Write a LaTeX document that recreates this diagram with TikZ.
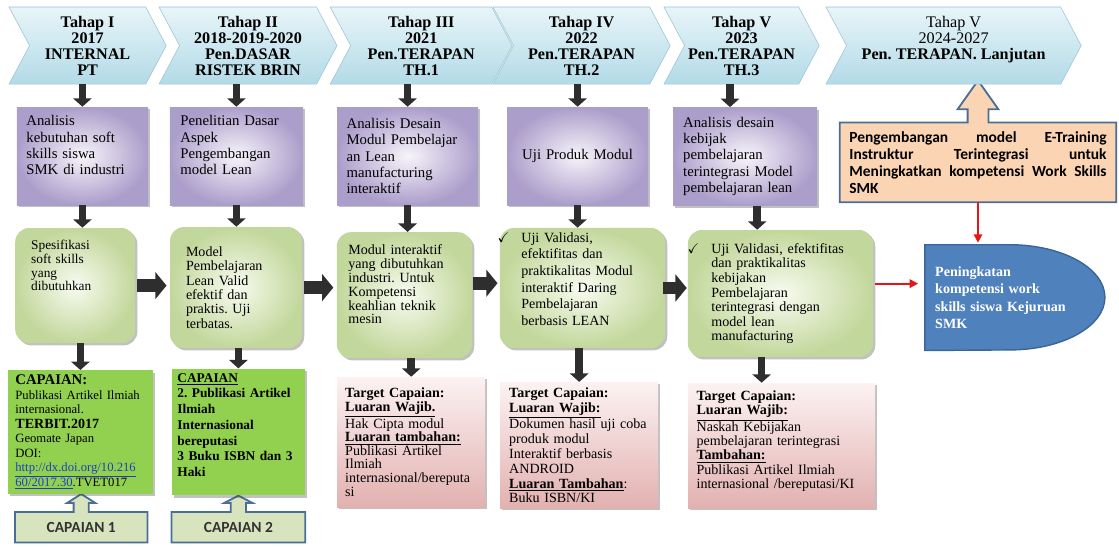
\documentclass[tikz,border=0pt]{standalone}
\usepackage{fontspec}
\usepackage{amssymb}
\setmainfont{Liberation Serif}
\newfontfamily\calfont{Carlito}
\usetikzlibrary{shapes.symbols, arrows.meta, positioning, calc, shadows, backgrounds}
\frenchspacing

\definecolor{stagetop}{HTML}{E8F5F9}
\definecolor{stagebot}{HTML}{B2DAE7}
\definecolor{stageline}{HTML}{9CC4D4}
\definecolor{anaout}{HTML}{AC9ECB}
\definecolor{anain}{HTML}{F7F4FA}
\definecolor{resout}{HTML}{C2D79B}
\definecolor{resin}{HTML}{F8FBF0}
\definecolor{tgttop}{HTML}{FCF2F2}
\definecolor{tgtbot}{HTML}{E2B1B0}
\definecolor{capgreen}{HTML}{92D050}
\definecolor{lblfill}{HTML}{D8E4BE}
\definecolor{lblline}{HTML}{4A6E96}
\definecolor{peach}{HTML}{FBD4B4}
\definecolor{goalblue}{HTML}{4F81BD}
\definecolor{goalline}{HTML}{3A6597}
\definecolor{linkblue}{HTML}{1F3FBF}
\definecolor{arrowgray}{HTML}{2E2E2E}
\definecolor{arrowred}{HTML}{E3161B}

% zero-width strut that lifts a node's text block
\newcommand{\lift}[1]{\rule[-#1]{0pt}{#1}}

\begin{document}
\begin{tikzpicture}[
    stage/.style={signal, signal from=west, signal to=east, signal pointer angle=124, top color=stagetop, bottom color=stagebot, draw=stageline, minimum height=1.93cm, inner sep=0pt, align=center, font=\fontsize{11.5}{11.4}\selectfont\bfseries},
    boxshadow/.style={drop shadow={shadow xshift=1.6pt, shadow yshift=-1.6pt, opacity=0.35, fill=black!70}},
    anabox/.style={rectangle, boxshadow, inner color=anain, outer color=anaout, minimum height=2.45cm, align=left, font=\fontsize{10.5}{11.5}\selectfont},
    resbox/.style={rectangle, rounded corners=0.35cm, boxshadow, inner color=resin, outer color=resout, align=left},
    capbox/.style={rectangle, boxshadow, fill=capgreen, minimum height=3cm, align=left},
    tgtbox/.style={rectangle, boxshadow, top color=tgttop, bottom color=tgtbot, align=left},
    lblbox/.style={rectangle, minimum height=0.75cm, text=black!80, font=\calfont\bfseries\fontsize{11}{12}\selectfont},
    lblshape/.style={fill=lblfill, draw=lblline, line width=1.3pt, line join=miter},
    darrow/.style={-{Triangle[width=13pt,length=6pt]}, line width=5.5pt, draw=arrowgray},
    harrow/.style={-{Triangle[width=19pt,length=8pt]}, line width=9pt, draw=arrowgray},
    redarrow/.style={-{Triangle[width=6pt,length=6pt]}, line width=1.3pt, draw=arrowred},
]
\useasboundingbox (0,0) rectangle (27.975,-13.65);

% Stages
\node[stage, minimum width=3.93cm] (st1) at (2.19,-1.14) {Tahap I\\2017\\INTERNAL\\PT};
\node[stage, minimum width=4.45cm] (st2) at (6.2,-1.14) {Tahap II\\2018-2019-2020\\Pen.DASAR\\RISTEK BRIN};
\node[stage, minimum width=4.55cm] (st3) at (10.53,-1.14) {Tahap III\\2021\\Pen.TERAPAN\\TH.1};
\node[stage, minimum width=4.43cm] (st4) at (14.54,-1.14) {Tahap IV\\2022\\Pen.TERAPAN\\TH.2};
\node[stage, minimum width=3.88cm] (st5) at (18.54,-1.14) {Tahap V\\2023\\Pen.TERAPAN\\TH.3};
\node[stage, minimum width=6.38cm] (st6) at (23.84,-1.14) {{\mdseries Tahap V}\\{\mdseries 2024-2027}\\Pen. TERAPAN. Lanjutan\\\mbox{}};

% Analysis boxes
\node[anabox, minimum width=3.28cm, text width=2.8cm] (an1) at (2.06,-3.9) {Analisis\\kebutuhan soft\\skills siswa\\SMK di industri\lift{0.55cm}};
\node[anabox, minimum width=3.33cm, text width=2.8cm] (an2) at (5.91,-3.9) {Penelitian Dasar\\Aspek\\Pengembangan\\model Lean\lift{0.55cm}};
\node[anabox, minimum width=3.53cm, text width=3.05cm] (an3) at (10.19,-3.9) {Analisis Desain\\Modul Pembelajar\\an Lean\\manufacturing\\interaktif};
\node[anabox, minimum width=3.53cm, text width=3.1cm, align=center] (an4) at (14.44,-3.9) {Uji Produk Modul};
\node[anabox, minimum width=3.6cm, text width=3.1cm] (an5) at (18.63,-3.91) {Analisis desain\\kebijak\\pembelajaran\\terintegrasi Model\\pembelajaran lean};

% Result boxes
\node[resbox, minimum width=3cm, minimum height=2.88cm, text width=2.2cm, font=\fontsize{9.5}{9.7}\selectfont] (res1) at (1.88,-7.14) {Spesifikasi\\soft skills\\yang\\dibutuhkan\lift{1cm}};
\node[resbox, minimum width=3.3cm, minimum height=3.03cm, text width=2.5cm, font=\fontsize{10}{10.2}\selectfont] (res2) at (5.9,-7.19) {Model\\Pembelajaran\\Lean Valid\\efektif dan\\praktis. Uji\\terbatas.};
\node[resbox, minimum width=3.38cm, minimum height=3.15cm, text width=2.8cm, font=\fontsize{10}{9.9}\selectfont] (res3) at (10.11,-7.38) {Modul interaktif\\yang dibutuhkan\\industri. Untuk\\Kompetensi\\keahlian teknik\\mesin\lift{0.55cm}};
\node[resbox, minimum width=4.13cm, minimum height=3cm, text width=3.05cm, font=\fontsize{10}{11.8}\selectfont] (res4) at (14.56,-7.2) {\llap{$\checkmark$\hspace{0.3cm}}Uji Validasi,\\efektifitas dan\\praktikalitas Modul\\interaktif Daring\\Pembelajaran\\berbasis LEAN\lift{0.45cm}};
\node[resbox, minimum width=4.63cm, minimum height=3.18cm, text width=3.45cm, font=\fontsize{10}{10.4}\selectfont] (res5) at (19.51,-7.34) {\llap{$\checkmark$\hspace{0.3cm}}Uji Validasi, efektifitas\\dan praktikalitas\\kebijakan\\Pembelajaran\\terintegrasi dengan\\model lean\\manufacturing};

% Capaian boxes
\node[capbox, minimum width=3.63cm, text width=3.25cm, font=\fontsize{9}{10.3}\selectfont] (cap1) at (2.01,-10.8) {{\bfseries\fontsize{10.5}{10.3}\selectfont CAPAIAN:}\\Publikasi Artikel Ilmiah\\internasional.\\{\bfseries\fontsize{10}{10.3}\selectfont TERBIT.2017}\\Geomate Japan\\DOI:\\\textcolor{linkblue}{\underline{http://dx.doi.org/10.216}}\\\textcolor{linkblue}{\underline{60/2017.30}}.TVET017};
\node[capbox, minimum width=3.33cm, text width=3.05cm, font=\fontsize{9.5}{11.2}\selectfont\bfseries] (cap2) at (5.96,-10.8) {\underline{CAPAIAN}\\2. Publikasi Artikel\\Ilmiah\\Internasional\\bereputasi\\3 Buku ISBN dan 3\\Haki\lift{0.35cm}};

% Target boxes
\node[tgtbox, minimum width=3.7cm, minimum height=3.25cm, text width=3.3cm, font=\fontsize{10}{9.7}\selectfont] (tgt3) at (10.28,-11.05) {\textbf{Target Capaian:}\\\textbf{\underline{Luaran Wajib.}}\\Hak Cipta modul\\\textbf{\underline{Luaran tambahan:}}\\Publikasi Artikel\\Ilmiah\\internasional/bereputa\\si};
\node[tgtbox, minimum width=3.95cm, minimum height=3.15cm, text width=3.5cm, font=\fontsize{10}{10.5}\selectfont] (tgt4) at (14.48,-11.13) {\textbf{Target Capaian:}\\\textbf{\underline{Luaran Wajib:}}\\Dokumen hasil uji coba\\produk modul\\Interaktif berbasis\\ANDROID\\\textbf{\underline{Luaran Tambahan}}:\\Buku ISBN/KI};
\node[tgtbox, minimum width=4.68cm, minimum height=3.13cm, text width=4.25cm, font=\fontsize{10}{10}\selectfont] (tgt5) at (19.54,-11.14) {\textbf{Target Capaian:}\\\textbf{\underline{Luaran Wajib:}}\\Naskah Kebijakan\\pembelajaran terintegrasi\\\textbf{\underline{Tambahan:}}\\Publikasi Artikel Ilmiah\\internasional /bereputasi/KI\lift{0.3cm}};

% Labels under capaian
\node[lblbox, minimum width=3.3cm] (lbl1) at (2.03,-13.18) {CAPAIAN 1};
\node[lblbox, minimum width=3.33cm] (lbl2) at (5.96,-13.18) {CAPAIAN 2};

% Development plan and goal
\node[rectangle, minimum width=6.9cm, minimum height=1.98cm, text width=6.43cm, align=left, font=\calfont\bfseries\fontsize{11}{12.2}\selectfont] (plan) at (24.45,-4.06) {Pengembangan\hfill model\hfill E-Training\\Instruktur\hfill Terintegrasi\hfill untuk\\Meningkatkan\hfill kompetensi\hfill Work\hfill Skills\\SMK};
\node[rectangle, minimum width=4.5cm, minimum height=2.63cm, text width=4cm, align=left, text=white, font=\fontsize{10}{12.5}\selectfont\bfseries] (goal) at (25.38,-7.44) {Peningkatan\\kompetensi work\\skills siswa Kejuruan\\SMK};

\begin{scope}[on background layer]
    \foreach \l/\c in {lbl1/cap1, lbl2/cap2}
        \path[lblshape] (\l.south west) -- (\l.north west) -- ([xshift=-0.19cm]\l.north) -- ([xshift=-0.19cm, yshift=0.225cm]\l.north) -- ([xshift=-0.35cm, yshift=0.225cm]\l.north) -- (\l.north |- \c.south) -- ([xshift=0.35cm, yshift=0.225cm]\l.north) -- ([xshift=0.19cm, yshift=0.225cm]\l.north) -- ([xshift=0.19cm]\l.north) -- (\l.north east) -- (\l.south east) -- cycle;
    \path[fill=peach, draw=lblline, line width=1.3pt, line join=miter] (plan.south west) -- (plan.north west) -- ([xshift=-0.26cm]plan.north) -- ([xshift=-0.26cm, yshift=0.33cm]plan.north) -- ([xshift=-0.51cm, yshift=0.33cm]plan.north) -- ([yshift=0.1cm]plan.north |- st6.south) -- ([xshift=0.51cm, yshift=0.33cm]plan.north) -- ([xshift=0.26cm, yshift=0.33cm]plan.north) -- ([xshift=0.26cm]plan.north) -- (plan.north east) -- (plan.south east) -- cycle;
    \path[fill=goalblue, draw=goalline, line width=1pt] (goal.south west) -- (goal.north west) -- ++(2.12,0) arc[start angle=90, end angle=-90, x radius=2.38cm, y radius=1.315cm] -- cycle;
\end{scope}

% Down arrows
\draw[darrow] (an1.north |- st1.south) -- (an1.north);
\draw[darrow] (an2.north |- st2.south) -- (an2.north);
\draw[darrow] (an3.north |- st3.south) -- (an3.north);
\draw[darrow] (an4.north |- st4.south) -- (an4.north);
\draw[darrow] ([xshift=-0.38cm]an5.north |- st5.south) -- ([xshift=-0.38cm]an5.north);

\draw[darrow] (an1.south) -- (an1.south |- res1.north);
\draw[darrow] (an2.south) -- (an2.south |- res2.north);
\draw[darrow] (an3.south) -- (an3.south |- res3.north);
\draw[darrow] (an4.south) -- (an4.south |- res4.north);
\draw[darrow] ([xshift=0.3cm]an5.south) -- ([xshift=0.3cm]an5.south |- res5.north);

\draw[darrow] (cap1.north |- res1.south) -- (cap1.north);
\draw[darrow] (cap2.north |- res2.south) -- (cap2.north);
\draw[darrow] (tgt3.north |- res3.south) -- (tgt3.north);
\draw[darrow] (tgt4.north |- res4.south) -- (tgt4.north);
\draw[darrow] ([xshift=-0.5cm]tgt5.north |- res5.south) -- ([xshift=-0.5cm]tgt5.north);

% Right arrows
\draw[harrow, shorten <=0.05cm, shorten >=0.08cm] (res1.east) -- (res1.east -| res2.west);
\draw[harrow, shorten <=0.05cm, shorten >=0.08cm] (res2.east) -- (res2.east -| res3.west);
\draw[harrow, shorten <=0.02cm, shorten >=0.05cm] ([yshift=0.3cm]res3.east) -- ([yshift=0.3cm]res3.east -| res4.west);
\draw[harrow, shorten <=-0.05cm, shorten >=0.02cm] (res4.east) -- (res4.east -| res5.west);

% Red connectors
\draw[redarrow, shorten <=0.05cm, shorten >=0.17cm] ([yshift=0.25cm]res5.east) -- ([yshift=0.25cm]res5.east -| goal.west);
\draw[redarrow, shorten >=0.05cm] (plan.south) -- (plan.south |- goal.north);

\end{tikzpicture}
\end{document}
